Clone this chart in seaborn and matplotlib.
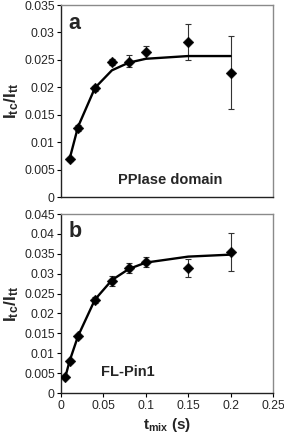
import numpy as np
import pandas as pd
import matplotlib
matplotlib.use("Agg")
import matplotlib.pyplot as plt
import seaborn as sns

# ---- data ----
t_a = [0.01, 0.02, 0.04, 0.06, 0.08, 0.10, 0.15, 0.20]
y_a = [0.0069, 0.0126, 0.0198, 0.0246, 0.0247, 0.0264, 0.0283, 0.0227]
err_a_lo = [0.0003, 0.0005, 0.0004, 0.0006, 0.0010, 0.0010, 0.0033, 0.0066]
err_a_hi = [0.0003, 0.0005, 0.0004, 0.0006, 0.0012, 0.0012, 0.0032, 0.0066]
fit_a = [0.0069, 0.0128, 0.0199, 0.0231, 0.0245, 0.0252, 0.0257, 0.0257]

t_b = [0.005, 0.01, 0.02, 0.04, 0.06, 0.08, 0.10, 0.15, 0.20]
y_b = [0.0040, 0.0080, 0.0143, 0.0234, 0.0282, 0.0314, 0.0330, 0.0314, 0.0355]
err_b_lo = [0.0003, 0.0004, 0.0004, 0.0007, 0.0013, 0.0013, 0.0012, 0.0021, 0.0048]
err_b_hi = [0.0003, 0.0004, 0.0004, 0.0007, 0.0013, 0.0013, 0.0012, 0.0022, 0.0048]
fit_b = [0.0040, 0.0080, 0.0143, 0.0235, 0.0284, 0.0312, 0.0328, 0.0343, 0.0348]

yticks_a = [0, 0.005, 0.01, 0.015, 0.02, 0.025, 0.03, 0.035]
ytick_labels_a = ["0", "0.005", "0.01", "0.015", "0.02", "0.025", "0.03", "0.035"]
yticks_b = [0, 0.005, 0.01, 0.015, 0.02, 0.025, 0.03, 0.035, 0.04, 0.045]
ytick_labels_b = ["0", "0.005", "0.01", "0.015", "0.02", "0.025", "0.03", "0.035", "0.04", "0.045"]
xticks = [0, 0.05, 0.1, 0.15, 0.2, 0.25]
xtick_labels = ["0", "0.05", "0.1", "0.15", "0.2", "0.25"]

sns.set_theme(style="white")
plt.rcParams["font.family"] = ["Liberation Sans", "DejaVu Sans"]
plt.rcParams["mathtext.fontset"] = "custom"
plt.rcParams["mathtext.rm"] = "Liberation Sans"
plt.rcParams["mathtext.bf"] = "Liberation Sans:bold"
plt.rcParams["mathtext.it"] = "Liberation Sans:italic"

fig = plt.figure(figsize=(2.84, 4.36), dpi=100)
ax_a = fig.add_axes([0.215, 0.548, 0.746, 0.4405])
ax_b = fig.add_axes([0.215, 0.0986, 0.746, 0.4104])

ylabel = r"$\mathbf{I}_{\mathbf{tc}}\mathbf{/I}_{\mathbf{tt}}$"

def draw(ax, t, y, lo, hi, fit, yticks, ylabels, ymax, letter, name, name_xy, show_x):
    df = pd.DataFrame({"t": t, "y": y, "fit": fit})
    ax.errorbar(t, y, yerr=[lo, hi], fmt="none", ecolor="#333333",
                elinewidth=0.8, capsize=2, capthick=0.8, zorder=2)
    sns.lineplot(data=df, x="t", y="fit", ax=ax, color="black", lw=1.7,
                 sort=False, zorder=3)
    sns.scatterplot(data=df, x="t", y="y", ax=ax, marker="D", color="black",
                    s=30, edgecolor="black", linewidth=0.3, zorder=4)
    ax.set_xlim(0, 0.25)
    ax.set_ylim(0, ymax)
    ax.set_yticks(yticks)
    ax.set_yticklabels(ylabels)
    ax.tick_params(axis="y", which="both", left=True, direction="out",
                   length=3, width=0.8, color="black", labelsize=8.7, pad=1.5)
    if show_x:
        ax.set_xticks(xticks)
        ax.set_xticklabels(xtick_labels)
        ax.tick_params(axis="x", bottom=True, direction="out", length=3,
                       width=0.8, color="black", labelsize=8.7, pad=2)
        ax.set_xlabel(r"$\mathbf{t}_{\mathbf{mix}}$ (s)", fontsize=11,
                      fontweight="bold", labelpad=3)
    else:
        ax.set_xticks([])
        ax.set_xlabel("")
    ax.set_ylabel(ylabel, fontsize=12.5, labelpad=2)
    for s in ["top", "right"]:
        ax.spines[s].set_color("#8a8a8a")
        ax.spines[s].set_linewidth(1.0)
    for s in ["left", "bottom"]:
        ax.spines[s].set_color("#222222")
        ax.spines[s].set_linewidth(1.0)
    ax.text(0.035, 0.96, letter, transform=ax.transAxes, fontsize=15.5,
            fontweight="bold", va="top", ha="left")
    ax.text(name_xy[0], name_xy[1], name, transform=ax.transAxes, fontsize=10.5,
            fontweight="bold", va="center", ha="left")

draw(ax_a, t_a, y_a, err_a_lo, err_a_hi, fit_a, yticks_a, ytick_labels_a,
     0.035, "a", "PPIase domain", (0.27, 0.09), False)
draw(ax_b, t_b, y_b, err_b_lo, err_b_hi, fit_b, yticks_b, ytick_labels_b,
     0.045, "b", "FL-Pin1", (0.19, 0.12), True)

fig.savefig("out.png", dpi=100)
